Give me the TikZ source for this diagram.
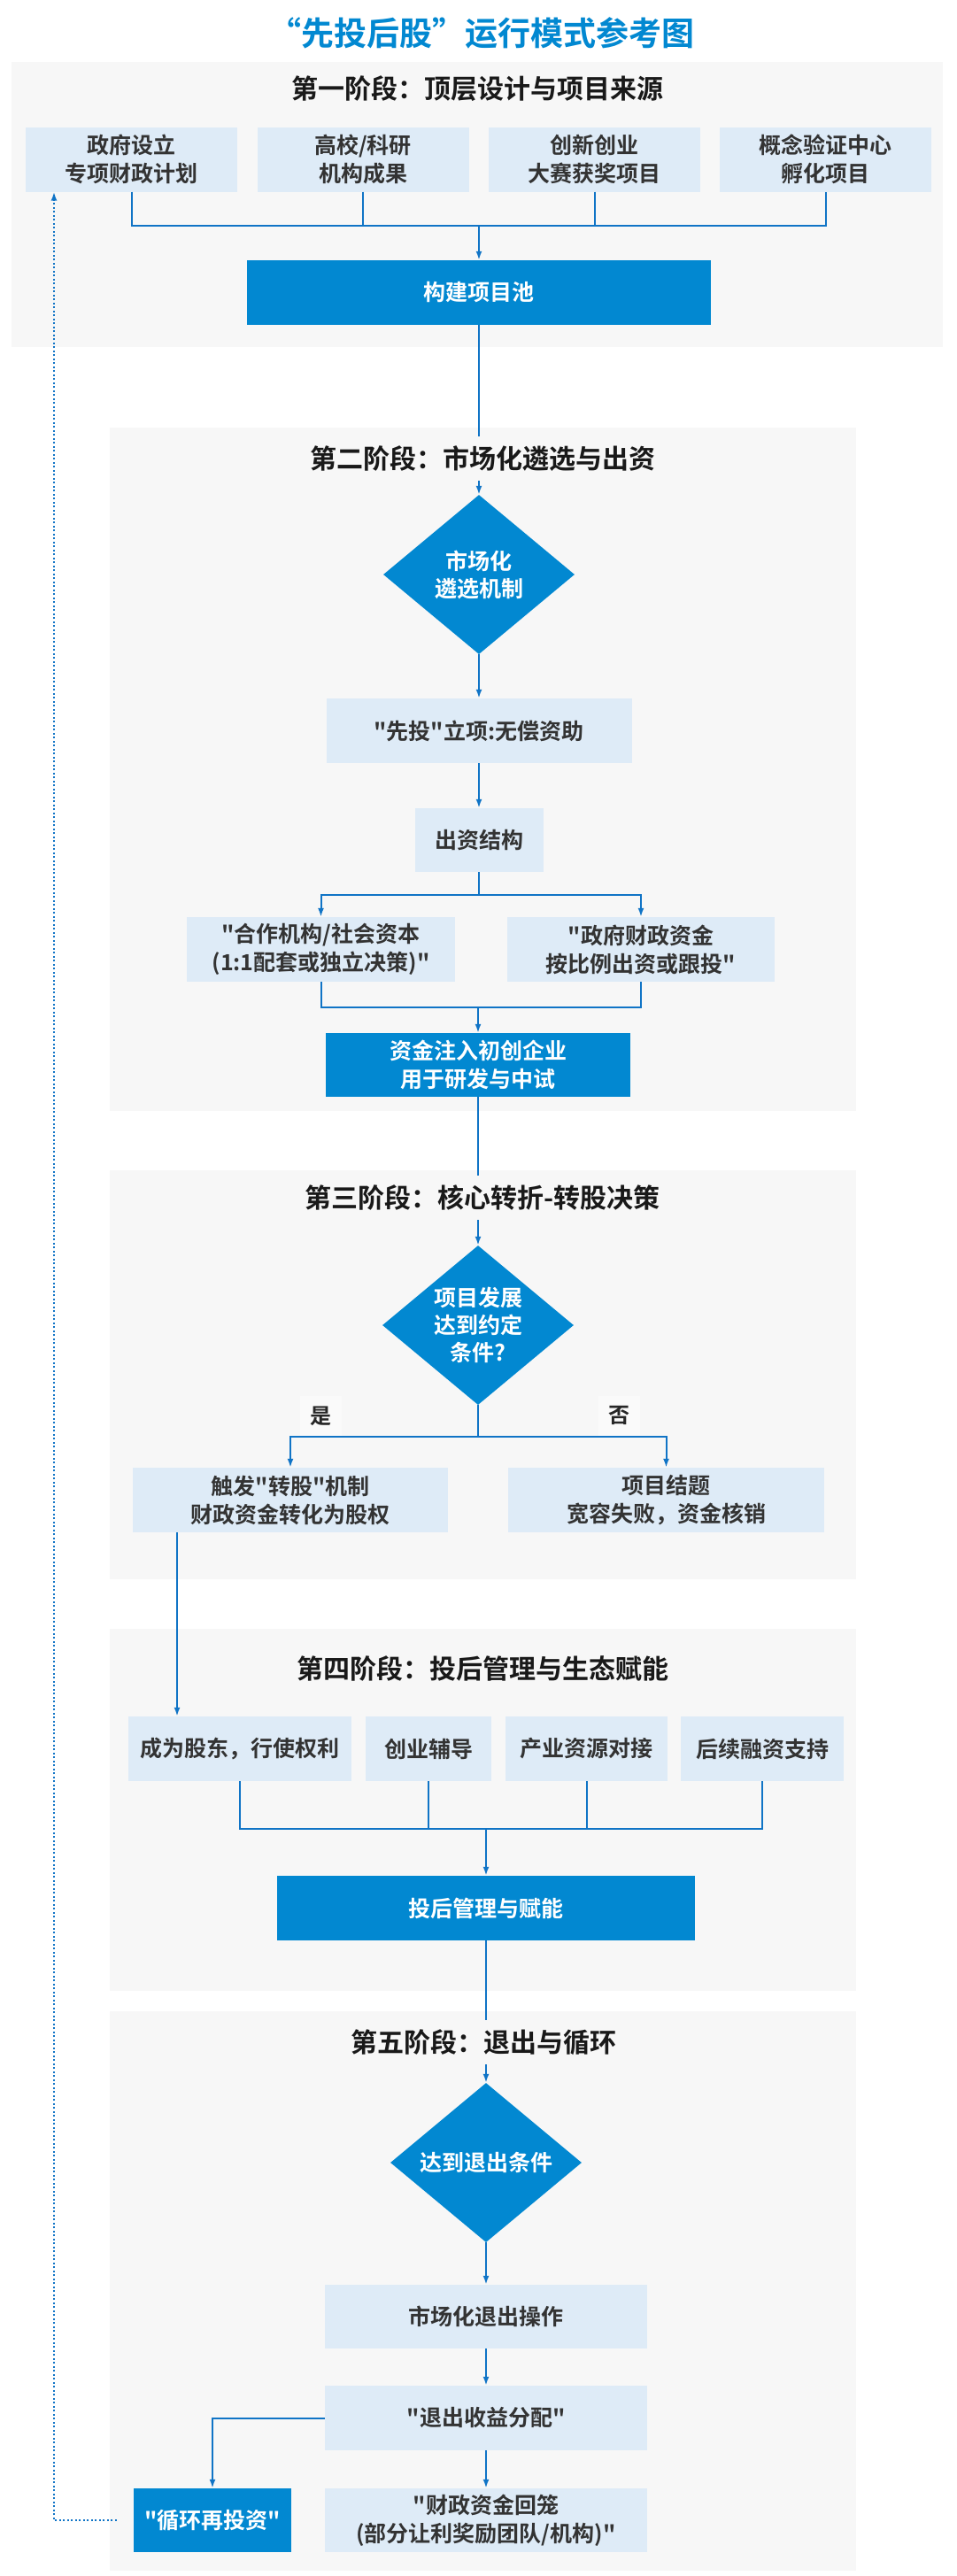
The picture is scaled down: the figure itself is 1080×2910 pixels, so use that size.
\documentclass[tikz,border=0pt]{standalone}
\usepackage{fontspec}
\newfontfamily\cjk{Noto Sans CJK SC}[BoldFont={Noto Sans CJK SC Bold}]
\usetikzlibrary{shapes.geometric,arrows.meta}
\definecolor{boxblue}{RGB}{2,136,209}
\definecolor{paleblue}{RGB}{222,235,247}
\definecolor{panelgray}{RGB}{247,247,247}
\definecolor{lineblue}{RGB}{16,116,198}
\definecolor{inkgray}{RGB}{51,51,51}

\begin{document}
\begin{tikzpicture}[x=1pt,y=-1pt,
    box/.style={rectangle,fill=paleblue,text=inkgray,font=\cjk\bfseries\fontsize{25}{32}\selectfont,align=center,inner sep=0pt,minimum height=73pt},
    darkbox/.style={box,fill=boxblue,text=white},
    choice/.style={diamond,aspect=1.2,fill=boxblue,text=white,font=\cjk\bfseries\fontsize{25}{31}\selectfont,align=center,inner sep=0pt,minimum width=216pt,minimum height=180pt},
    stage/.style={fill=panelgray,text=black!90,font=\cjk\bfseries\fontsize{30}{36}\selectfont,inner sep=4pt,minimum height=50pt},
    tag/.style={fill=black!2,text=black!85,font=\cjk\bfseries\fontsize{24}{28}\selectfont,minimum width=47pt,minimum height=45pt,inner sep=0pt},
    link/.style={draw=lineblue,line width=2pt},
    flow/.style={link,-{Latex[length=10pt,width=7pt]}},
    backloop/.style={draw=lineblue,line width=2pt,dash pattern=on 2pt off 2.5pt,-{Latex[length=10pt,width=7pt]}}]
  \useasboundingbox (0,0) rectangle (1080,2910);
  \fill[white] (0,0) rectangle (1080,2910);
  % panels
  \fill[panelgray] (13,70) rectangle (1065,392);
  \foreach \top/\bot in {483/1255,1322/1784,1840/2249,2272/2904}
    \fill[panelgray] (124,\top) rectangle (967,\bot);
  \node[text=boxblue,font=\cjk\bfseries\fontsize{37}{44}\selectfont] (title) at (544,37) {“先投后股”运行模式参考图};

  % stage 1
  \foreach \n/\x/\t in {s1/148.5/{政府设立\\专项财政计划},s2/410/{高校/科研\\机构成果},s3/671.5/{创新创业\\大赛获奖项目},s4/932.5/{概念验证中心\\孵化项目}}
    \node[box,minimum width=239pt] (\n) at (\x,180) {\t};
  \node[darkbox,minimum width=524pt] (pool) at (541,330.5) {构建项目池};
  \coordinate (j1) at (541,255);
  \draw[link] (s1.south) |- (j1) -| (s4.south);
  \foreach \n in {s2,s3} \draw[link] (\n.south) -- (\n.south |- j1);
  \draw[flow] (j1) -- (pool.north);

  % stage 2
  \node[choice] (d1) at (541,649) {市场化\\遴选机制};
  \node[box,minimum width=345pt] (b1) at (541,825.5) {"先投"立项:无偿资助};
  \node[box,minimum width=145pt,minimum height=72pt] (b2) at (541,949) {出资结构};
  \node[box,minimum width=303pt] (b3) at (362.5,1072.5) {"合作机构/社会资本\\(1:1配套或独立决策)"};
  \node[box,minimum width=302pt] (b4) at (724,1072.5) {"政府财政资金\\按比例出资或跟投"};
  \node[darkbox,minimum width=344pt,minimum height=72pt] (b5) at (540,1203) {资金注入初创企业\\用于研发与中试};
  \coordinate (j2) at (541,1011);
  \coordinate (j3) at (540,1138);
  \draw[flow] (pool) -- (d1);
  \draw[flow] (d1) -- (b1);
  \draw[flow] (b1) -- (b2);
  \draw[link] (b2.south) -- (j2);
  \draw[flow] (j2) -| (b3.north);
  \draw[flow] (j2) -| (b4.north);
  \draw[link] (b3.south) |- (j3) -| (b4.south);
  \draw[flow] (j3) -- (b5.north);

  % stage 3
  \node[choice] (d2) at (540,1497) {项目发展\\达到约定\\条件?};
  \node[box,minimum width=356pt] (b6) at (328,1694.5) {触发"转股"机制\\财政资金转化为股权};
  \node[box,minimum width=357pt] (b7) at (752.5,1694.5) {项目结题\\宽容失败，资金核销};
  \coordinate (j4) at (540,1623);
  \draw[flow] (b5) -- (d2);
  \draw[link] (d2.south) -- (j4);
  \draw[flow] (j4) -| (b6.north);
  \draw[flow] (j4) -| (b7.north);
  \node[tag,anchor=south] (yes) at (362,1622) {是};
  \node[tag,anchor=south] (no) at (699,1622) {否};

  % stage 4
  \foreach \n/\x/\w/\t in {c1/271/252/{成为股东，行使权利},c2/484/142/创业辅导,c3/662.5/183/产业资源对接,c4/861/184/后续融资支持}
    \node[box,minimum width=\w pt] (\n) at (\x,1975.5) {\t};
  \node[darkbox,minimum width=472pt] (mgmt) at (549,2155.5) {投后管理与赋能};
  \coordinate (j5) at (549,2066);
  \coordinate (drop) at (200,0);
  \draw[flow] (b6.south -| drop) -- (c1.north -| drop);
  \draw[link] (c1.south) |- (j5) -| (c4.south);
  \foreach \n in {c2,c3} \draw[link] (\n.south) -- (\n.south |- j5);
  \draw[flow] (j5) -- (mgmt.north);

  % stage 5
  \node[choice] (d3) at (549,2443) {达到退出条件};
  \node[box,minimum width=364pt,minimum height=72pt] (e1) at (549,2617) {市场化退出操作};
  \node[box,minimum width=364pt] (e2) at (549,2731.5) {"退出收益分配"};
  \node[box,minimum width=364pt,minimum height=72pt] (e3) at (549,2847) {"财政资金回笼\\(部分让利奖励团队/机构)"};
  \node[darkbox,minimum width=178pt,minimum height=72pt] (loop) at (240,2847) {"循环再投资"};
  \coordinate (hook) at (61,0);
  \draw[flow] (mgmt) -- (d3);
  \draw[flow] (d3) -- (e1);
  \draw[flow] (e1) -- (e2);
  \draw[flow] (e2) -- (e3);
  \draw[flow] (e2.west) -| (loop.north);
  \draw[backloop,shorten <=19pt] (loop.west) -| (s1.south -| hook);

  % stage headings
  \node[stage] (h1) at (539,100) {第一阶段：顶层设计与项目来源};
  \node[stage] (h2) at (545,518) {第二阶段：市场化遴选与出资};
  \node[stage] (h3) at (545,1353) {第三阶段：核心转折-转股决策};
  \node[stage] (h4) at (545,1885) {第四阶段：投后管理与生态赋能};
  \node[stage] (h5) at (546,2307) {第五阶段：退出与循环};
\end{tikzpicture}
\end{document}
